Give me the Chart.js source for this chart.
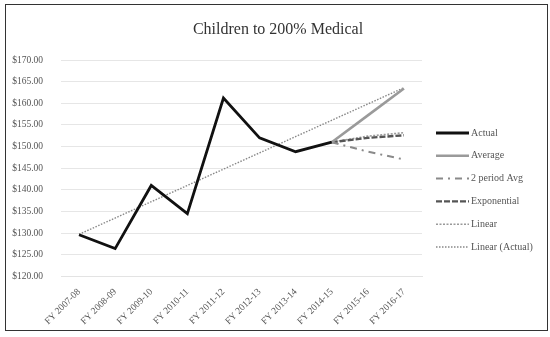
<!DOCTYPE html>
<html>
<head>
<meta charset="utf-8">
<script src="https://cdn.jsdelivr.net/npm/chart.js@4.4.1/dist/chart.umd.min.js"></script>
<style>
  html, body { margin: 0; padding: 0; background: #fff; }
  #frame {
    position: absolute; left: 5px; top: 4px; width: 543px; height: 327px;
    border: 1.5px solid #333; box-sizing: border-box; background: #fff;
  }
  #wrap { position: absolute; left: 0; top: 0; width: 540px; height: 324px; }
</style>
</head>
<body>
<div id="frame"><div id="wrap"><canvas id="c"></canvas></div></div>
<script>
const chartTitle = 'Children to 200% Medical';
const categories = ['FY 2007-08', 'FY 2008-09', 'FY 2009-10', 'FY 2010-11', 'FY 2011-12',
                    'FY 2012-13', 'FY 2013-14', 'FY 2014-15', 'FY 2015-16', 'FY 2016-17'];
const actual        = [129.6, 126.4, 141.0, 134.5, 161.2, 152.0, 148.8, 151.0, null, null];
const average       = [null, null, null, null, null, null, null, 151.0, 157.2, 163.4];
const twoPeriodAvg  = [null, null, null, null, null, null, null, 151.0, 148.8, 147.0];
const exponential   = [null, null, null, null, null, null, null, 151.0, 152.0, 152.6];
const linear        = [null, null, null, null, null, null, null, 151.0, 152.4, 153.2];
const linearActual  = [129.7, null, null, null, null, null, null, null, null, 163.6];

const serif = '"Liberation Serif", "Times New Roman", serif';

function series(label, data, color, width, dash) {
  return {
    label, data,
    borderColor: color, backgroundColor: color,
    borderWidth: width, borderDash: dash,
    pointRadius: 0, pointHoverRadius: 0,
    tension: 0, spanGaps: true, fill: false
  };
}

// Title centred across the whole canvas, and a legend at the right with a
// line sample in each series' own style followed by its name.
const frameText = {
  id: 'frameText',
  afterDraw(chart) {
    const ctx = chart.ctx;
    ctx.save();
    ctx.fillStyle = '#333';
    ctx.font = '16px ' + serif;
    ctx.textAlign = 'center';
    ctx.textBaseline = 'middle';
    ctx.fillText(chartTitle, 272, 25);

    const x0 = 430, x1 = 463, top = 128, step = 22.8;
    ctx.font = '10px ' + serif;
    ctx.textAlign = 'left';
    chart.data.datasets.forEach((ds, i) => {
      const y = top + i * step;
      ctx.beginPath();
      ctx.strokeStyle = ds.borderColor;
      ctx.lineWidth = ds.borderWidth;
      ctx.setLineDash(ds.borderDash || []);
      ctx.moveTo(x0, y);
      ctx.lineTo(x1, y);
      ctx.stroke();
      ctx.setLineDash([]);
      ctx.fillStyle = '#555';
      ctx.fillText(ds.label, x1 + 2, y);
    });
    ctx.restore();
  }
};

new Chart(document.getElementById('c'), {
  type: 'line',
  data: {
    labels: categories,
    datasets: [
      series('Actual', actual, '#111', 2.8, []),
      series('Average', average, '#9a9a9a', 2.6, []),
      series('2 period Avg', twoPeriodAvg, '#8a8a8a', 2, [7, 5, 2, 5]),
      series('Exponential', exponential, '#555', 2.4, [6, 2]),
      series('Linear', linear, '#999', 1.6, [2, 1.5]),
      series('Linear (Actual)', linearActual, '#888', 1.4, [1.5, 1.5])
    ]
  },
  plugins: [frameText],
  options: {
    responsive: true,
    maintainAspectRatio: false,
    animation: false,
    layout: { padding: { left: 2, right: 124, top: 55, bottom: 0 } },
    plugins: {
      title: { display: false },
      legend: { display: false },
      tooltip: { enabled: false }
    },
    scales: {
      x: {
        offset: true,
        grid: { display: false },
        border: { display: true, color: '#e3e3e3' },
        // the slanted labels may hang left past the plot, into the y-axis band
        afterFit: s => { s.paddingLeft = 0; },
        ticks: {
          maxRotation: 45, minRotation: 45,
          color: '#555',
          font: { family: serif, size: 9.5 },
          padding: 2
        }
      },
      y: {
        min: 120, max: 170,
        grid: { color: '#e6e6e6', drawTicks: false },
        border: { display: false },
        afterFit: s => { s.width = 53; },
        ticks: {
          stepSize: 5,
          color: '#555',
          padding: 18,
          font: { family: serif, size: 9.5 },
          callback: v => '$' + v.toFixed(2)
        }
      }
    }
  }
});
</script>
</body>
</html>
